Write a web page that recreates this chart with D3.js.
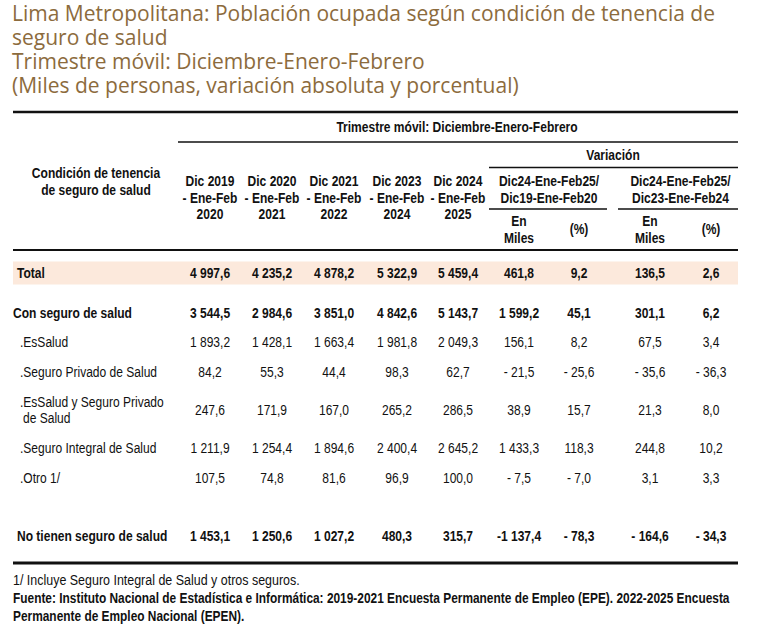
<!DOCTYPE html>
<html>
<head>
<meta charset="utf-8">
<script src="https://cdn.jsdelivr.net/npm/d3@7"></script>
<style>
  body { margin: 0; background: #fff; }
  svg { display: block; }
  .title { font-family: "Open Sans", sans-serif; fill: #8c6b3d; }
  .tbl { font-family: "Liberation Sans", Arial, sans-serif; fill: #111; }
</style>
</head>
<body>
<svg width="763" height="628"></svg>
<script>
var titleLines = [
    'Lima Metropolitana: Población ocupada según condición de tenencia de',
    'seguro de salud',
    'Trimestre móvil: Diciembre-Enero-Febrero',
    '(Miles de personas, variación absoluta y porcentual)'
];
var categories = ['Total', 'Con seguro de salud', '.EsSalud', '.Seguro Privado de Salud',
    '.EsSalud y Seguro Privado de Salud', '.Seguro Integral de Salud', '.Otro 1/', 'No tienen seguro de salud'];
var boldRows = ['Total', 'Con seguro de salud', 'No tienen seguro de salud'];
var periodLabels = [
    ['Dic 2019', '- Ene-Feb', '2020'],
    ['Dic 2020', '- Ene-Feb', '2021'],
    ['Dic 2021', '- Ene-Feb', '2022'],
    ['Dic 2023', '- Ene-Feb', '2024'],
    ['Dic 2024', '- Ene-Feb', '2025']
];
var v2020 = [4997.6, 3544.5, 1893.2, 84.2, 247.6, 1211.9, 107.5, 1453.1];
var v2021 = [4235.2, 2984.6, 1428.1, 55.3, 171.9, 1254.4, 74.8, 1250.6];
var v2022 = [4878.2, 3851.0, 1663.4, 44.4, 167.0, 1894.6, 81.6, 1027.2];
var v2024 = [5322.9, 4842.6, 1981.8, 98.3, 265.2, 2400.4, 96.9, 480.3];
var v2025 = [5459.4, 5143.7, 2049.3, 62.7, 286.5, 2645.2, 100.0, 315.7];
var varAbs19 = [461.8, 1599.2, 156.1, -21.5, 38.9, 1433.3, -7.5, -1137.4];
var varPct19 = [9.2, 45.1, 8.2, -25.6, 15.7, 118.3, -7.0, -78.3];
var varAbs23 = [136.5, 301.1, 67.5, -35.6, 21.3, 244.8, 3.1, -164.6];
var varPct23 = [2.6, 6.2, 3.4, -36.3, 8.0, 10.2, 3.3, -34.3];
var varGroups = [['Dic24-Ene-Feb25/', 'Dic19-Ene-Feb20'], ['Dic24-Ene-Feb25/', 'Dic23-Ene-Feb24']];
var footNotes = [
    '1/ Incluye Seguro Integral de Salud y otros seguros.',
    'Fuente: Instituto Nacional de Estadística e Informática: 2019-2021 Encuesta Permanente de Empleo (EPE). 2022-2025 Encuesta',
    'Permanente de Empleo Nacional (EPEN).'
];

var columns = [v2020, v2021, v2022, v2024, v2025, varAbs19, varPct19, varAbs23, varPct23];
var colKeys = d3.range(columns.length);

var svg = d3.select('svg');
var fontSize = 14.5;
var narrow = 0.83; // no Arial Narrow here, so squeeze Liberation Sans

var esLocale = d3.formatLocale({ decimal: ',', thousands: ' ', grouping: [3], currency: ['', ''] });
var fmtNum = esLocale.format(',.1f');
function fmt(v) {
    if (v >= 0) return fmtNum(v);
    // the source puts a space after the minus except on the widest value
    return Math.abs(v) >= 1000 ? '-' + fmtNum(-v) : '- ' + fmtNum(-v);
}

// layout scales
var x = d3.scaleOrdinal().domain(colKeys).range([210, 272, 334, 397, 458, 519, 579, 650, 711]);
var y = d3.scaleOrdinal().domain(categories).range([273, 313, 342, 372, 410, 448, 478, 536]);
var left = 13, right = 738;

// title
svg.selectAll('text.title').data(titleLines).join('text')
    .attr('class', 'title')
    .attr('x', 12)
    .attr('y', function(d, i) { return 21 + i * 24; })
    .style('font-size', '21px')
    .text(function(d) { return d; });

function rule(x1, x2, yy, w) {
    svg.append('line')
        .attr('x1', x1).attr('x2', x2).attr('y1', yy).attr('y2', yy)
        .attr('stroke', '#111').attr('stroke-width', w);
}

function label(txt, xx, yy, bold, anchor, size, sx) {
    return svg.append('text')
        .attr('class', 'tbl')
        .attr('transform', 'translate(' + xx + ',' + yy + ') scale(' + (sx || narrow) + ',1)')
        .attr('dy', '0.35em')
        .attr('text-anchor', anchor || 'middle')
        .style('font-size', (size || fontSize) + 'px')
        .style('font-weight', bold ? 'bold' : 'normal')
        .text(txt);
}

// total band
svg.append('rect')
    .attr('x', left).attr('width', right - left)
    .attr('y', y('Total') - 11.5).attr('height', 23)
    .attr('fill', '#fce9dc');

// header rules
rule(left, right, 112, 2.5);
rule(178, right, 142, 1.6);
rule(489, right, 167.5, 1.6);
rule(489, 607, 209, 1.6);
rule(618, right, 209, 1.6);
rule(left, right, 250, 2);
rule(left, right, 563, 3);

// header text
label('Trimestre móvil: Diciembre-Enero-Febrero', 457, 127, true);
label('Variación', 613, 155, true);
label('Condición de tenencia', 96, 173, true);
label('de seguro de salud', 96, 190, true);
periodLabels.forEach(function(lines, i) {
    lines.forEach(function(t, j) { label(t, x(i), 181 + j * 16.5, true); });
});
varGroups.forEach(function(lines, g) {
    var cx = (x(5 + g * 2) + x(6 + g * 2)) / 2;
    lines.forEach(function(t, j) { label(t, cx, 181 + j * 17, true); });
    label('En', x(5 + g * 2), 221, true);
    label('Miles', x(5 + g * 2), 238, true);
    label('(%)', x(6 + g * 2), 229, true);
});

// row labels
categories.forEach(function(c) {
    var bold = boldRows.indexOf(c) >= 0;
    var lx = c === 'Con seguro de salud' ? 13 : (bold ? 17 : 20);
    if (c === '.EsSalud y Seguro Privado de Salud') {
        label('.EsSalud y Seguro Privado', lx, y(c) - 8, false, 'start');
        label('de Salud', lx + 3, y(c) + 8, false, 'start');
    } else {
        label(c, lx, y(c), bold, 'start');
    }
});

// cells
columns.forEach(function(col, ci) {
    col.forEach(function(v, ri) {
        var c = categories[ri];
        label(fmt(v), x(ci), y(c), boldRows.indexOf(c) >= 0);
    });
});

// footnotes
footNotes.forEach(function(t, i) {
    label(t, 13, 580 + i * 18, i > 0, 'start', 14, i > 0 ? 0.85 : 0.89);
});
</script>
</body>
</html>
